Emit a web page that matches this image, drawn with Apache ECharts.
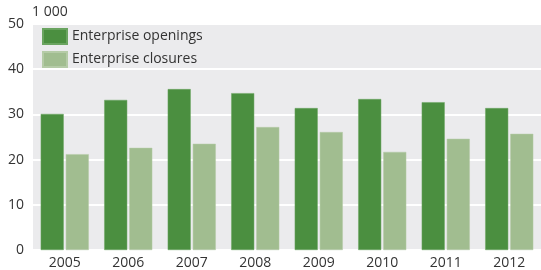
<!DOCTYPE html>
<html>
<head>
<meta charset="utf-8">
<script src="https://cdn.jsdelivr.net/npm/echarts@6/dist/echarts.min.js"></script>
<style>
  html, body { margin: 0; padding: 0; background: #fff; }
  #chart { width: 541px; height: 270px; }
</style>
</head>
<body>
<div id="chart"></div>
<script>
const years = ['2005', '2006', '2007', '2008', '2009', '2010', '2011', '2012']
const openings = [30.1, 33.2, 35.6, 34.7, 31.4, 33.4, 32.7, 31.4]
const closures = [21.2, 22.6, 23.5, 27.2, 26.1, 21.7, 24.6, 25.7]
const yTicks = [0, 10, 20, 30, 40, 50]

const font = '"Open Sans", "Noto Sans", sans-serif'
const chart = echarts.init(document.getElementById('chart'))

chart.setOption({
  animation: false,
  textStyle: { fontFamily: font },
  title: {
    text: '1 000',
    left: 32,
    top: 5,
    padding: 0,
    textStyle: { fontSize: 14, fontWeight: 'normal', color: '#333', fontFamily: font }
  },
  legend: {
    orient: 'vertical',
    left: 42,
    top: 28,
    padding: 0,
    itemWidth: 24,
    itemHeight: 15,
    itemGap: 6,
    icon: 'rect',
    textStyle: { fontSize: 14, color: '#333', fontFamily: font },
    data: ['Enterprise openings', 'Enterprise closures']
  },
  grid: {
    left: 33, right: 0, top: 24, bottom: 20,
    show: true, backgroundColor: '#ebebed', borderWidth: 0
  },
  xAxis: {
    type: 'category',
    data: years,
    axisLine: { show: false },
    axisTick: { show: false },
    axisLabel: { fontSize: 14, color: '#333', margin: 6, fontFamily: font }
  },
  yAxis: {
    type: 'value',
    min: yTicks[0],
    max: yTicks[yTicks.length - 1],
    interval: 10,
    axisLine: { show: false },
    axisTick: { show: false },
    splitLine: { lineStyle: { color: '#ffffff', width: 2 } },
    axisLabel: { fontSize: 14, color: '#333', margin: 9, fontFamily: font }
  },
  series: [
    {
      name: 'Enterprise openings',
      type: 'bar',
      data: openings,
      barWidth: 23,
      barGap: '9%',
      itemStyle: { color: '#4b8f40', borderColor: '#6aa460', borderWidth: 0.5 }
    },
    {
      name: 'Enterprise closures',
      type: 'bar',
      data: closures,
      barWidth: 23,
      barGap: '9%',
      itemStyle: { color: '#a1bd90', borderColor: '#b5cba7', borderWidth: 0.5 }
    }
  ]
})
</script>
</body>
</html>
